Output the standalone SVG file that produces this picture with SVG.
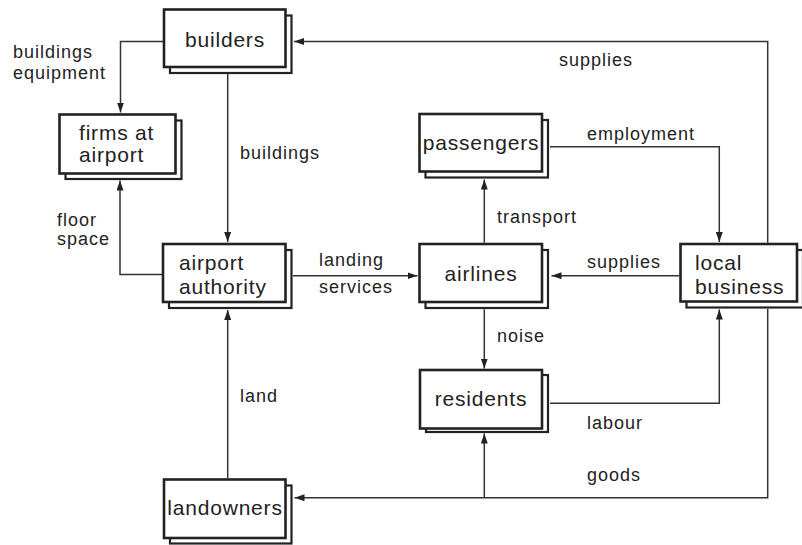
<svg xmlns="http://www.w3.org/2000/svg" width="802" height="545" viewBox="0 0 802 545">
<style>
.bg{fill:#fff}
.front{fill:#fff;stroke:#222;stroke-width:2.6}
.shadow{fill:#fff;stroke:#222;stroke-width:2.2}
.node{font-family:"Liberation Sans",Arial,sans-serif;font-size:21px;letter-spacing:0.8px;fill:#222}
.lbl{font-family:"Liberation Sans",Arial,sans-serif;font-size:18px;letter-spacing:1px;fill:#222}
.c{fill:none;stroke:#333;stroke-width:1.5}
</style>
<defs>
<marker id="ah" markerUnits="userSpaceOnUse" markerWidth="11" markerHeight="8" refX="10" refY="3.5" orient="auto">
<path d="M0,0 L10,3.5 L0,7 z" fill="#222"/>
</marker>
</defs>
<rect class="bg" x="0" y="0" width="802" height="545"/>
<g id="connectors">
<path class="c" d="M164,41.5 H120.5 V112.5" marker-end="url(#ah)"/>
<path class="c" d="M767.7,242.7 V41.5 H294" marker-end="url(#ah)"/>
<path class="c" d="M227.7,74 V242" marker-end="url(#ah)"/>
<path class="c" d="M163,274.5 H120 V180.5" marker-end="url(#ah)"/>
<path class="c" d="M293,275.7 H417.5" marker-end="url(#ah)"/>
<path class="c" d="M227.7,478.3 V310" marker-end="url(#ah)"/>
<path class="c" d="M484.3,242.7 V179.5" marker-end="url(#ah)"/>
<path class="c" d="M550,146.7 H719.3 V242" marker-end="url(#ah)"/>
<path class="c" d="M679.3,275.7 H551.5" marker-end="url(#ah)"/>
<path class="c" d="M484.3,309.3 V368.5" marker-end="url(#ah)"/>
<path class="c" d="M550,403.3 H719.3 V309.5" marker-end="url(#ah)"/>
<path class="c" d="M767.7,309 V497.7 H294.5" marker-end="url(#ah)"/>
<path class="c" d="M484.3,497.7 V433.5" marker-end="url(#ah)"/>
<text class="lbl" x="13" y="58">buildings</text>
<text class="lbl" x="13" y="79">equipment</text>
<text class="lbl" x="559" y="66">supplies</text>
<text class="lbl" x="240" y="159">buildings</text>
<text class="lbl" x="587" y="140">employment</text>
<text class="lbl" x="497" y="223">transport</text>
<text class="lbl" x="57" y="226">floor</text>
<text class="lbl" x="57" y="245">space</text>
<text class="lbl" x="319" y="266">landing</text>
<text class="lbl" x="319" y="293">services</text>
<text class="lbl" x="587" y="268">supplies</text>
<text class="lbl" x="497" y="342">noise</text>
<text class="lbl" x="240" y="402">land</text>
<text class="lbl" x="587" y="429">labour</text>
<text class="lbl" x="587" y="481">goods</text>
</g>
<g id="builders">
<rect class="shadow" x="170" y="15.5" width="121.5" height="57.5"/>
<rect class="front" x="164" y="9.5" width="121.5" height="57.5"/>
<text class="node" x="225" y="46.5" text-anchor="middle">builders</text>
</g>
<g id="firms">
<rect class="shadow" x="65.5" y="120.5" width="116" height="58.5"/>
<rect class="front" x="59.5" y="114.5" width="116" height="59"/>
<text class="node" x="79" y="140">firms at</text>
<text class="node" x="79" y="162">airport</text>
</g>
<g id="authority">
<rect class="shadow" x="169" y="250" width="122.5" height="58"/>
<rect class="front" x="163" y="244" width="122.5" height="58"/>
<text class="node" x="179" y="269.5">airport</text>
<text class="node" x="179" y="294">authority</text>
</g>
<g id="passengers">
<rect class="shadow" x="425.5" y="120" width="122.5" height="57.5"/>
<rect class="front" x="419.5" y="114" width="122.5" height="57.5"/>
<text class="node" x="481" y="150" text-anchor="middle">passengers</text>
</g>
<g id="airlines">
<rect class="shadow" x="425.5" y="250" width="122.5" height="58"/>
<rect class="front" x="419.5" y="244" width="122.5" height="58"/>
<text class="node" x="481" y="281" text-anchor="middle">airlines</text>
</g>
<g id="localbusiness">
<rect class="shadow" x="686.5" y="250" width="116.5" height="57.5"/>
<rect class="front" x="680.5" y="244" width="116.5" height="57.5"/>
<text class="node" x="695" y="269.5">local</text>
<text class="node" x="695" y="294">business</text>
</g>
<g id="residents">
<rect class="shadow" x="426" y="375" width="122" height="57"/>
<rect class="front" x="420" y="370" width="122" height="58.5"/>
<text class="node" x="481" y="406" text-anchor="middle">residents</text>
</g>
<g id="landowners">
<rect class="shadow" x="170" y="485.5" width="121.5" height="58"/>
<rect class="front" x="164" y="479.5" width="121.5" height="58.5"/>
<text class="node" x="225" y="515" text-anchor="middle">landowners</text>
</g>
</svg>
